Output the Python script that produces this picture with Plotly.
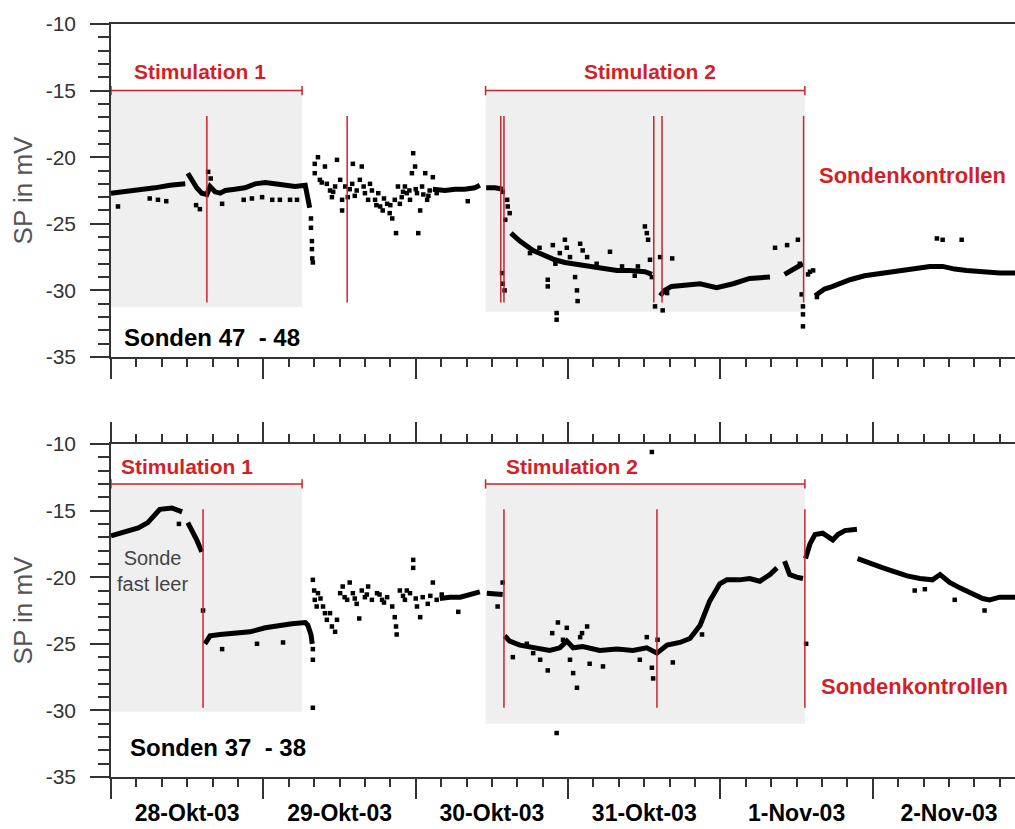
import plotly.graph_objects as go

# ---------------- data (time in hours since 28-Okt-03 00:00, SP in mV) ----------------
DAY_LABELS = ["28-Okt-03", "29-Okt-03", "30-Okt-03", "31-Okt-03", "1-Nov-03", "2-Nov-03"]
X_END_H = 142.4

# Sonden 47 - 48 : dense band (None = gap)
TOP_BAND = [(0.0,-22.7),(2.2,-22.6),(4.6,-22.4),(6.9,-22.3),(9.3,-22.1),(11.7,-22.0),None,
            (12.1,-21.2),(12.8,-21.7),(13.5,-22.3),(14.3,-22.7),(15.1,-22.8),(15.6,-22.2),(16.4,-22.6),
            (17.2,-22.7),(18.0,-22.5),(19.5,-22.4),(21.1,-22.3),(22.7,-22.0),(24.3,-21.9),(25.8,-22.0),
            (27.4,-22.1),(29.0,-22.2),(30.6,-22.1),(31.0,-23.0),(31.3,-23.8),None,
            (50.7,-22.4),(52.6,-22.5),(54.2,-22.4),(55.7,-22.4),(57.3,-22.3),(58.1,-22.1),None,
            (59.1,-22.3),(60.5,-22.3),(61.7,-22.4),None,
            (63.0,-25.7),(64.4,-26.3),(66.5,-27.0),(68.3,-27.4),(69.9,-27.7),(71.5,-27.9),(73.9,-28.1),
            (75.9,-28.2),(77.8,-28.4),(79.7,-28.5),(81.7,-28.5),(84.1,-28.6),(85.2,-28.8),None,
            (86.5,-30.4),(87.2,-30.0),(88.3,-29.7),(90.4,-29.6),(92.8,-29.5),(95.4,-29.8),(98.0,-29.5),
            (100.6,-29.1),(103.8,-29.0),None,
            (106.1,-28.8),(108.0,-28.3),(109.0,-28.0),None,
            (110.9,-30.4),(112.4,-29.9),(113.7,-29.7),(116.4,-29.2),(118.7,-28.9),(121.6,-28.7),
            (124.3,-28.5),(126.9,-28.3),(129.0,-28.2),(131.0,-28.2),(132.9,-28.4),(134.8,-28.5),
            (136.9,-28.6),(140.0,-28.7),(142.4,-28.7)]

# Sonden 47 - 48 : scattered single readings
TOP_DOTS = [(1.1,-23.7),(6.1,-23.1),(7.4,-23.2),(8.7,-23.3),(13.4,-23.6),(14.0,-23.9),(15.3,-21.1),
            (15.7,-21.6),(17.5,-23.5),(20.9,-23.2),(22.2,-23.1),(23.8,-23.0),(25.4,-23.2),(26.6,-23.2),
            (28.2,-23.2),(29.3,-23.2),
            (31.5,-24.6),(31.5,-25.3),(31.65,-26.3),(31.65,-26.9),(31.7,-27.6),(31.8,-27.9),
            (32.1,-20.5),(32.6,-20.0),(32.1,-21.2),(32.9,-21.7),(33.7,-20.7),(34.0,-22.0),(34.5,-22.5),
            (34.8,-23.0),(35.3,-22.2),(35.6,-20.2),(36.1,-21.7),(36.4,-23.2),(36.4,-24.0),(36.9,-22.2),
            (37.3,-23.0),(38.0,-22.0),(38.1,-20.5),(38.7,-22.5),(39.2,-21.7),(39.5,-20.7),(40.0,-22.7),
            (40.5,-23.2),(41.1,-22.5),(41.6,-23.2),(42.1,-22.7),(42.4,-23.7),(42.8,-24.0),(43.5,-23.5),
            (43.9,-24.2),(44.3,-24.6),(44.7,-23.2),(44.9,-25.7),(45.2,-22.2),(45.8,-23.0),(46.3,-22.2),
            (46.6,-22.7),(47.1,-23.2),(47.4,-21.2),(47.6,-19.7),(47.9,-20.7),(48.2,-22.7),(48.4,-25.7),
            (48.7,-24.0),(49.0,-22.2),(49.5,-21.2),(49.8,-23.2),(50.2,-22.5),(50.7,-21.5),(51.3,-22.7),
            (56.2,-23.3),(33.2,-21.9),(35.0,-22.6),(37.6,-22.4),(38.4,-22.9),(39.8,-22.2),(40.8,-22.0),
            (41.8,-23.6),(43.0,-23.1),(44.0,-23.6),(45.5,-23.5),(46.0,-22.6),(47.0,-22.5),(48.0,-22.4),
            (49.2,-22.8),(50.0,-22.9),
            (61.7,-22.6),(62.4,-23.2),(62.5,-23.7),(62.8,-24.2),(61.6,-28.7),(61.7,-29.5),(62.0,-30.0),
            (62.1,-24.7),(68.8,-29.7),(68.8,-29.2),(70.2,-32.2),(70.2,-31.7),(69.6,-26.6),(70.7,-27.2),
            (71.5,-26.2),(71.8,-26.8),(72.3,-27.5),(73.1,-29.0),(73.4,-30.0),(73.5,-30.8),(73.9,-26.5),
            (74.3,-27.0),(75.0,-27.5),(78.6,-27.1),(84.1,-25.2),(84.4,-25.7),(84.6,-26.2),(84.9,-27.7),
            (85.2,-29.0),(85.7,-31.2),(86.5,-27.5),(86.9,-31.5),(88.4,-27.6),(87.6,-30.2),
            (66.0,-27.2),(67.5,-26.8),(70.0,-28.0),(76.5,-28.0),(80.5,-28.2),(82.5,-28.9),(83.0,-28.2),
            (104.6,-26.8),(106.5,-26.6),(108.2,-26.2),(108.5,-28.0),(108.8,-30.3),(109.0,-31.2),
            (109.0,-31.8),(109.0,-32.7),(109.8,-28.8),(110.1,-28.6),(110.6,-28.5),(111.2,-30.5),
            (130.1,-26.1),(131.0,-26.2),(134.0,-26.2)]

# Sonden 37 - 38 : dense band
BOT_BAND = [(0.0,-16.9),(2.2,-16.6),(4.3,-16.3),(5.8,-15.9),(6.9,-15.3),(7.7,-14.9),(9.6,-14.8),(11.2,-15.1),None,
            (12.1,-15.9),(12.9,-16.6),(13.5,-17.2),(14.3,-18.1),None,
            (14.8,-25.0),(15.6,-24.4),(17.2,-24.3),(20.0,-24.2),(21.9,-24.1),(24.3,-23.8),(26.6,-23.6),
            (28.5,-23.5),(30.6,-23.4),(31.0,-23.6),(31.5,-24.3),(31.7,-25.0),None,
            (51.8,-21.6),(53.4,-21.5),(55.0,-21.5),(56.5,-21.3),(58.1,-21.1),None,
            (59.2,-21.2),(60.5,-21.3),(61.7,-21.3),None,
            (62.0,-24.4),(62.8,-24.8),(64.4,-25.1),(66.5,-25.3),(69.1,-25.5),(70.7,-25.3),(71.8,-24.8),
            (72.8,-25.3),(74.3,-25.2),(77.0,-25.5),(79.7,-25.4),(82.2,-25.5),(84.4,-25.3),(86.0,-25.7),
            (87.6,-25.1),(89.6,-24.9),(91.2,-24.6),(92.8,-23.6),(93.5,-22.7),(94.3,-21.8),(95.9,-20.5),
            (97.0,-20.2),(99.0,-20.2),(100.6,-20.1),(102.2,-20.3),(103.8,-19.8),(104.9,-19.3),None,
            (106.1,-18.8),(106.9,-19.8),(108.0,-20.0),(109.0,-20.1),None,
            (109.4,-18.6),(110.1,-17.5),(110.9,-16.8),(112.1,-16.7),(113.7,-17.2),(114.5,-16.8),
            (115.6,-16.5),(117.5,-16.4),None,
            (117.6,-18.6),(119.6,-19.0),(121.6,-19.3),(123.5,-19.6),(125.4,-19.9),(127.4,-20.1),
            (129.4,-20.2),(130.6,-19.8),(132.1,-20.4),(133.7,-20.8),(135.3,-21.2),(137.3,-21.6),
            (138.4,-21.7),(140.0,-21.5),(142.4,-21.5)]

BOT_DOTS = [(10.7,-16.0),(14.5,-22.5),(17.5,-25.4),(23.0,-25.0),(27.1,-24.9),(31.8,-25.4),(31.8,-26.2),
            (31.8,-29.8),
            (31.8,-20.2),(32.0,-21.0),(32.1,-21.7),(32.4,-22.2),(32.6,-21.2),(33.4,-22.2),(33.7,-22.7),
            (34.0,-23.2),(34.5,-22.7),(34.8,-23.7),(35.3,-24.1),(35.6,-23.2),(36.1,-21.2),(36.5,-20.7),
            (37.2,-21.7),(37.6,-20.4),(38.1,-21.2),(38.7,-22.0),(39.1,-23.1),(39.5,-21.0),(40.0,-21.5),
            (40.5,-20.7),(41.1,-21.7),(41.9,-21.2),(42.7,-21.7),(43.5,-21.5),(44.3,-22.2),(44.7,-23.0),
            (44.9,-23.7),(45.0,-24.3),(45.5,-21.0),(46.3,-21.7),(47.1,-21.2),(47.6,-18.7),(47.6,-19.3),
            (46.6,-21.0),(48.2,-22.2),(48.7,-23.0),(49.1,-21.5),(49.9,-22.0),(50.7,-20.4),(51.3,-21.7),
            (52.1,-21.3),(54.7,-22.6),(60.9,-22.2),(61.7,-20.4),
            (33.0,-21.6),(36.8,-21.5),(38.4,-21.6),(40.3,-21.3),(42.3,-21.3),(43.0,-21.9),(46.0,-21.4),
            (48.0,-21.6),(50.3,-21.4),
            (63.3,-26.0),(65.5,-25.0),(66.5,-25.7),(67.6,-26.2),(68.8,-27.0),(69.5,-24.2),(70.4,-23.4),
            (71.2,-24.7),(71.8,-23.8),(72.3,-26.2),(72.8,-27.2),(73.4,-28.3),(73.9,-24.5),(74.2,-24.2),
            (75.0,-23.7),(75.4,-26.5),(70.2,-31.7),(77.5,-26.7),(83.3,-26.2),(84.4,-24.5),(85.2,-10.6),
            (85.4,-27.6),(85.2,-26.8),(86.1,-24.7),(88.5,-26.4),
            (93.1,-24.3),(109.5,-25.0),(126.6,-21.0),(128.2,-20.9),(132.9,-21.7),(137.6,-22.5)]

# stimulation periods (hours) and probe-control events (hours)
STIM_NAMES = ["Stimulation 1", "Stimulation 2"]
STIM_START = [0.0, 59.0]
STIM_END = [30.1, 109.3]
TOP_SHADE_BOTTOM = [-31.25, -31.6]
BOT_SHADE_BOTTOM = [-30.1, -31.0]
TOP_BRACKET_Y, BOT_BRACKET_Y = -15.0, -13.0
TOP_EVENTS = [15.1, 37.2, 61.4, 61.9, 85.5, 86.8, 109.1]
BOT_EVENTS = [14.5, 61.9, 86.0, 109.3]
TOP_EVENT_SPAN = (-16.9, -30.9)
BOT_EVENT_SPAN = (-14.9, -29.8)
TOP_STIM_LABEL = [(14.0, -13.6), (84.9, -13.6)]
BOT_STIM_LABEL = [(12.0, -11.7), (72.6, -11.7)]

Y_TICKS = [-35, -30, -25, -20, -15, -10]

# ---------------- figure ----------------
W, H = 1015, 829
RED = "#d41f27"
LINE_RED = "#cc2229"
AX = "#333333"
FONT = "Arial, 'Liberation Sans', sans-serif"


def unzip(pairs):
    xs, ys = [], []
    for p in pairs:
        if p is None:
            xs.append(None); ys.append(None)
        else:
            xs.append(p[0]); ys.append(p[1])
    return xs, ys


fig = go.Figure()
for band, dots, xa, ya in [(TOP_BAND, TOP_DOTS, "x", "y"), (BOT_BAND, BOT_DOTS, "x2", "y2")]:
    bx, by = unzip(band)
    fig.add_trace(go.Scatter(x=bx, y=by, mode="lines", xaxis=xa, yaxis=ya,
                             line=dict(color="black", width=5), connectgaps=False,
                             showlegend=False, hoverinfo="skip"))
    dx, dy = unzip(dots)
    fig.add_trace(go.Scatter(x=dx, y=dy, mode="markers", xaxis=xa, yaxis=ya,
                             marker=dict(color="black", size=4.5, symbol="square", line=dict(width=0)),
                             showlegend=False, hoverinfo="skip"))
# carrier trace for the day-label axis
fig.add_trace(go.Scatter(x=[None], y=[None], xaxis="x3", yaxis="y2", showlegend=False))

shapes = []
annotations = []
panels = [("x", "y", TOP_SHADE_BOTTOM, TOP_BRACKET_Y, TOP_EVENTS, TOP_EVENT_SPAN, TOP_STIM_LABEL),
          ("x2", "y2", BOT_SHADE_BOTTOM, BOT_BRACKET_Y, BOT_EVENTS, BOT_EVENT_SPAN, BOT_STIM_LABEL)]
for xr, yr, shade_bot, br_y, events, span, labels in panels:
    for i in range(len(STIM_START)):
        shapes.append(dict(type="rect", xref=xr, yref=yr, x0=STIM_START[i], x1=STIM_END[i],
                           y0=shade_bot[i], y1=br_y, fillcolor="#efefef", line=dict(width=0),
                           layer="below"))
        shapes.append(dict(type="line", xref=xr, yref=yr, x0=STIM_START[i], x1=STIM_END[i],
                           y0=br_y, y1=br_y, line=dict(color=LINE_RED, width=1.5)))
        for xe in (STIM_START[i], STIM_END[i]):
            shapes.append(dict(type="line", xref=xr, yref=yr, x0=xe, x1=xe,
                               y0=br_y - 0.35, y1=br_y + 0.35, line=dict(color=LINE_RED, width=1.5)))
        annotations.append(dict(xref=xr, yref=yr, x=labels[i][0], y=labels[i][1], text=STIM_NAMES[i],
                                showarrow=False, xanchor="center", yanchor="middle",
                                font=dict(family=FONT, size=21, color=RED, weight="bold")))
    for e in events:
        shapes.append(dict(type="line", xref=xr, yref=yr, x0=e, x1=e, y0=span[0], y1=span[1],
                           line=dict(color=LINE_RED, width=1.5)))

annotations += [
    dict(xref="x", yref="y", x=111.2, y=-21.4, text="Sondenkontrollen", showarrow=False,
         xanchor="left", yanchor="middle", font=dict(family=FONT, size=22, color=RED, weight="bold")),
    dict(xref="x2", yref="y2", x=111.5, y=-28.2, text="Sondenkontrollen", showarrow=False,
         xanchor="left", yanchor="middle", font=dict(family=FONT, size=22, color=RED, weight="bold")),
    dict(xref="x", yref="y", x=1.7, y=-33.5, text="Sonden 47  - 48", showarrow=False,
         xanchor="left", yanchor="middle", font=dict(family=FONT, size=24, color="black", weight="bold")),
    dict(xref="x2", yref="y2", x=2.7, y=-32.8, text="Sonden 37  - 38", showarrow=False,
         xanchor="left", yanchor="middle", font=dict(family=FONT, size=24, color="black", weight="bold")),
    dict(xref="x2", yref="y2", x=6.6, y=-19.5, text="Sonde<br>fast leer", showarrow=False,
         xanchor="center", yanchor="middle", align="center",
         font=dict(family=FONT, size=20, color="#444444")),
]

x_dom = [111 / W, 1.0]
top_dom = [(H - 357) / H, (H - 24) / H]
bot_dom = [(H - 777) / H, (H - 444) / H]

common_x = dict(range=[0, X_END_H], domain=x_dom, showgrid=False, zeroline=False, automargin=False,
                showline=True, linecolor=AX, linewidth=1.5,
                ticks="outside", tickmode="linear", tick0=0, dtick=24, ticklen=20, tickwidth=1.5,
                tickcolor=AX, showticklabels=False,
                minor=dict(ticks="outside", tickmode="linear", tick0=0, dtick=4, ticklen=8,
                           tickwidth=1.5, tickcolor=AX, showgrid=False))
common_y = dict(range=[-35, -10], showgrid=False, zeroline=False, showline=True, linecolor=AX,
                automargin=False,
                linewidth=1.5, ticks="outside", tickmode="array", tickvals=Y_TICKS,
                ticktext=[str(v) for v in Y_TICKS], ticklen=19, tickwidth=1.5, tickcolor=AX,
                tickfont=dict(family=FONT, size=21, color="#333333"), ticklabelstandoff=10,
                minor=dict(ticks="outside", tickmode="linear", tick0=0, dtick=1, ticklen=11,
                           tickwidth=1.5, tickcolor=AX, showgrid=False),
                title=dict(text="SP in mV", font=dict(family=FONT, size=26, color="#555555"),
                           standoff=6))

fig.update_layout(
    width=W, height=H, margin=dict(l=0, r=0, t=0, b=0, autoexpand=False),
    paper_bgcolor="white", plot_bgcolor="white", showlegend=False,
    xaxis=dict(common_x, anchor="y", mirror=True),
    yaxis=dict(common_y, domain=top_dom, anchor="x"),
    xaxis2=dict(common_x, anchor="y2", mirror="ticks"),
    yaxis2=dict(common_y, domain=bot_dom, anchor="x2"),
    xaxis3=dict(range=[0, X_END_H], domain=x_dom, overlaying="x2", anchor="y2", side="bottom",
                automargin=False,
                showgrid=False, zeroline=False, showline=False, tickmode="array",
                tickvals=[12 + 24 * i for i in range(len(DAY_LABELS))], ticktext=DAY_LABELS,
                ticks="outside", ticklen=15, tickcolor="rgba(0,0,0,0)",
                tickfont=dict(family=FONT, size=23, color="black", weight="bold")),
    shapes=shapes, annotations=annotations,
    font=dict(family=FONT),
)

fig.write_html("out.html", config={"displayModeBar": False},
               post_script="document.body.style.margin='0px';document.body.style.overflow='hidden';")
